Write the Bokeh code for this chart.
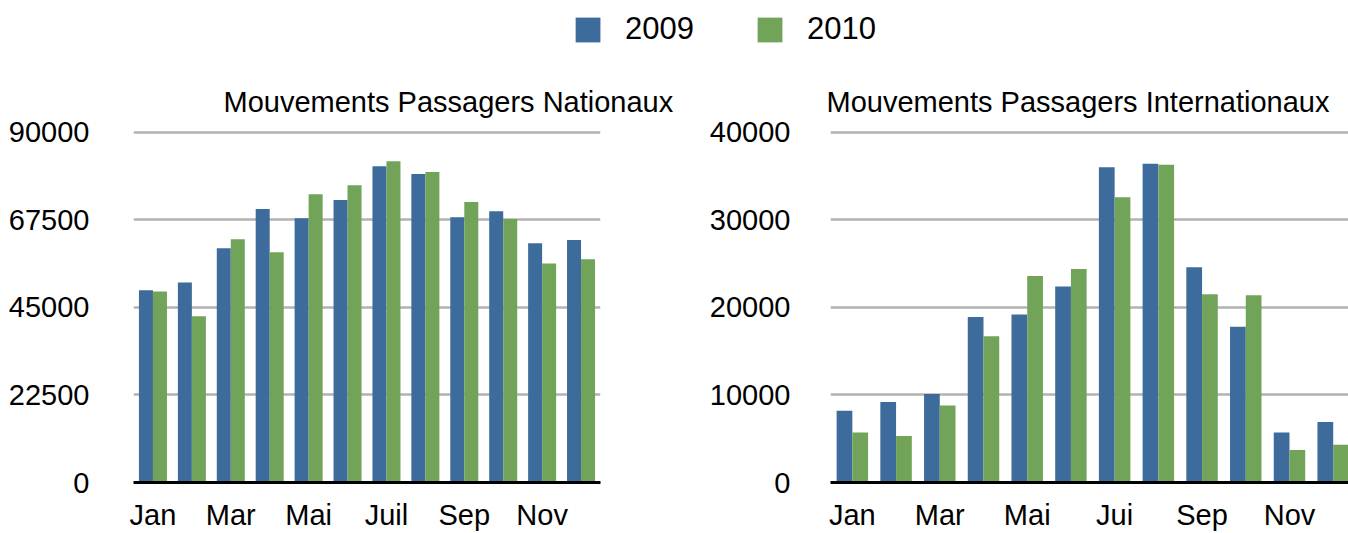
from bokeh.plotting import figure
from bokeh.models import (Range1d, FixedTicker, ColumnDataSource, Legend, LegendItem,
                          NumeralTickFormatter)
from bokeh.transform import dodge
from bokeh.layouts import column, row
from bokeh.embed import file_html
from bokeh.resources import INLINE

# ---------------- data ----------------
months = ["Jan", "Fév", "Mar", "Avr", "Mai", "Juin", "Juil", "Août", "Sep", "Oct", "Nov", "Déc"]
series = ["2009", "2010"]
nat_2009 = [49400, 51400, 60200, 70300, 67900, 72600, 81300, 79300, 68200, 69700, 61500, 62300]
nat_2010 = [49100, 42700, 62500, 59200, 74100, 76400, 82600, 79800, 72100, 67700, 56300, 57400]
int_2009 = [8200, 9200, 10100, 18900, 19200, 22400, 36000, 36400, 24600, 17800, 5700, 6900]
int_2010 = [5700, 5300, 8800, 16700, 23600, 24400, 32600, 36300, 21500, 21400, 3700, 4300]
nat_ticks = [0, 22500, 45000, 67500, 90000]
int_ticks = [0, 10000, 20000, 30000, 40000]
nat_month_labels = ["Jan", "Mar", "Mai", "Juil", "Sep", "Nov"]
int_month_labels = ["Jan", "Mar", "Mai", "Jui", "Sep", "Nov"]
titles = ["Mouvements Passagers Nationaux", "Mouvements Passagers Internationaux"]

BLUE = "#3d6c9c"
GREEN = "#71a459"
FONT = "Liberation Sans"


def make_chart(title, v09, v10, ticks, month_labels, width, mb_left, mb_right,
               x_end, title_offset, y_standoff):
    idx = list(range(len(months)))
    src = ColumnDataSource(dict(m=idx, month=months, a=v09, b=v10))
    p = figure(width=width, height=475, output_backend="svg", toolbar_location=None,
               x_range=Range1d(-0.5, x_end), y_range=Range1d(0, ticks[-1] * 1.0167),
               min_border_left=mb_left, min_border_right=mb_right,
               min_border_top=68, min_border_bottom=51)
    p.vbar(x=dodge("m", -0.18, range=p.x_range), top="a", width=0.36, source=src,
           fill_color=BLUE, line_color=None)
    p.vbar(x=dodge("m", 0.18, range=p.x_range), top="b", width=0.36, source=src,
           fill_color=GREEN, line_color=None)

    p.title.text = title
    p.title.align = "left"
    p.title.offset = title_offset
    p.title.text_font = FONT
    p.title.text_font_size = "29px"
    p.title.text_font_style = "normal"
    p.title.text_color = "black"
    p.title.standoff = 18

    label_pos = idx[::2]
    p.xaxis.ticker = FixedTicker(ticks=label_pos)
    p.xaxis.major_label_overrides = {k: v for k, v in zip(label_pos, month_labels)}
    p.xaxis.axis_line_color = "black"
    p.xaxis.axis_line_width = 3
    p.xaxis.major_tick_line_color = None
    p.xaxis.minor_tick_line_color = None
    p.xaxis.major_label_standoff = 10
    p.xaxis.major_label_text_font = FONT
    p.xaxis.major_label_text_font_size = "29px"
    p.xaxis.major_label_text_color = "black"

    p.yaxis.ticker = FixedTicker(ticks=ticks)
    p.yaxis.formatter = NumeralTickFormatter(format="0")
    p.yaxis.axis_line_color = None
    p.yaxis.major_tick_line_color = None
    p.yaxis.minor_tick_line_color = None
    p.yaxis.major_label_standoff = y_standoff
    p.yaxis.major_label_text_font = FONT
    p.yaxis.major_label_text_font_size = "29px"
    p.yaxis.major_label_text_color = "black"

    p.xgrid.grid_line_color = None
    p.ygrid.grid_line_color = "#b3b3b3"
    p.ygrid.grid_line_width = 2.5
    p.outline_line_color = None
    return p


left = make_chart(titles[0], nat_2009, nat_2010, nat_ticks, nat_month_labels,
                  width=690, mb_left=133, mb_right=90, x_end=11.5,
                  title_offset=90, y_standoff=38)
right = make_chart(titles[1], int_2009, int_2010, int_ticks, int_month_labels,
                   width=658, mb_left=140, mb_right=0, x_end=11.35,
                   title_offset=-4, y_standoff=34)

# legend strip
lf = figure(width=1348, height=58, output_backend="svg", toolbar_location=None,
            min_border_left=100, min_border_right=0, min_border_top=0, min_border_bottom=0,
            x_axis_location=None, y_axis_location=None,
            x_range=Range1d(0, 1), y_range=Range1d(0, 1))
lf.outline_line_color = None
lf.grid.visible = False
swatch = ColumnDataSource(dict(x=[-5], top=[0]))
r1 = lf.vbar(x="x", top="top", width=0.01, source=swatch, fill_color=BLUE, line_color=None)
r2 = lf.vbar(x="x", top="top", width=0.01, source=swatch, fill_color=GREEN, line_color=None)
legend = Legend(items=[LegendItem(label=series[0], renderers=[r1]),
                       LegendItem(label=series[1], renderers=[r2])],
                orientation="horizontal", location="center",
                glyph_width=31, glyph_height=31, label_standoff=22, spacing=60,
                label_text_font=FONT, label_text_font_size="31px",
                label_text_color="black", label_height=31,
                border_line_color=None, background_fill_alpha=0, padding=0, margin=0)
lf.add_layout(legend, "center")

page = column(lf, row(left, right))
open("out.html", "w").write(file_html(page, INLINE))
